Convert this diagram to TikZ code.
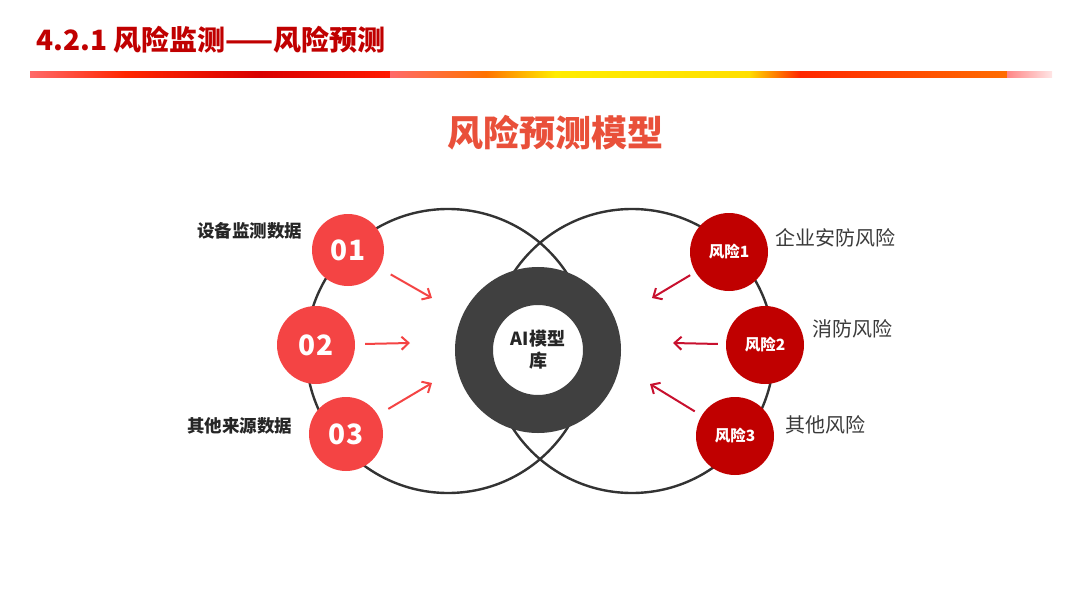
\documentclass[tikz,border=0pt]{standalone}
\usepackage{fontspec}
\setmainfont{Noto Sans CJK SC}
\usepackage{xcolor}
\usetikzlibrary{arrows.meta, positioning}

\definecolor{titlered}{HTML}{C00000}
\definecolor{headorange}{HTML}{E9503A}
\definecolor{datared}{HTML}{F44444}
\definecolor{riskred}{HTML}{C00000}
\definecolor{arrred}{HTML}{C8102E}
\definecolor{ringgray}{HTML}{404040}
\definecolor{ringline}{HTML}{333333}
\definecolor{lbldark}{HTML}{262626}
\definecolor{lblgray}{HTML}{3A3A3A}

\begin{document}
\begin{tikzpicture}[
  x=1pt, y=-1pt,
  bigring/.style={circle, draw=ringline, line width=2.4pt, minimum size=284pt, inner sep=0pt},
  airing/.style={circle, draw=ringgray, fill=white, line width=38pt, minimum size=128pt, inner sep=0pt, align=center, text=lbldark, font=\bfseries\fontsize{18}{22}\selectfont},
  datadot/.style={circle, fill=datared, text=white, inner sep=0pt, font=\bfseries\fontsize{28}{28}\selectfont},
  riskdot/.style={circle, fill=riskred, minimum size=78pt, text=white, inner sep=0pt, font=\bfseries\fontsize{15.5}{15.5}\selectfont},
  datalbl/.style={anchor=east, text=lbldark, font=\bfseries\fontsize{17.5}{17.5}\selectfont},
  risklbl/.style={anchor=west, text=lblgray, font=\fontsize{20}{20}\selectfont},
  inarr/.style={-{Straight Barb[length=7pt,width=13pt]}, draw=datared, line width=2pt},
  outarr/.style={-{Straight Barb[length=7pt,width=13pt]}, draw=arrred, line width=2pt}
]
\useasboundingbox (0,0) rectangle (1080,608);

% title and band
\node[anchor=west, text=titlered, font=\bfseries\fontsize{28}{28}\selectfont] (title) at (33,40) {4.2.1 风险监测——风险预测};
\foreach \xa/\xb/\ca/\cb in {30/125/red!45!pink/red!70!orange,
  125/260/red!70!orange/red!85!black, 260/390/red!85!black/red!80!orange,
  390/486/red!45!pink/orange!90!red, 486/555/orange!90!red/yellow!85!orange,
  555/750/yellow!85!orange/yellow!75!orange, 750/800/yellow!70!orange/red!70!orange,
  800/1007/red!70!orange/orange!85!red, 1007/1052/red!30!pink/red!10}
  \fill[left color=\ca, right color=\cb] (\xa,71) rectangle (\xb,77);

\node[text=headorange, font=\bfseries\fontsize{36}{36}\selectfont] (head) at (555,133) {风险预测模型};

% big circles
\node[bigring] (lc) at (448,351) {};
\node[bigring] (rc) at (632,351) {};

% model library
\node[airing] (ai) at (538,350) {AI模型\\库};

% data sources
\node[datadot, minimum size=72pt] (d1) at (348,250) {01};
\node[datadot, minimum size=78pt] (d2) at (316,345) {02};
\node[datadot, minimum size=74pt] (d3) at (346,434) {03};
\node[datalbl] (l1) at (306,231) {设备监测数据};
\node[datalbl] (l3) at (296,426) {其他来源数据};

% risks
\node[riskdot] (r1) at (729,252) {风险1};
\node[riskdot] (r2) at (765,345) {风险2};
\node[riskdot] (r3) at (735,436) {风险3};
\node[risklbl] (t1) at (772,238) {企业安防风险};
\node[risklbl] (t2) at (809,329) {消防风险};
\node[risklbl] (t3) at (782,425) {其他风险};

% arrow ends
\coordinate (in1) at (432,298);
\coordinate (in2) at (410,343);
\coordinate (in3) at (432,383);
\coordinate (out1) at (652,298);
\coordinate (out2) at (673,343);
\coordinate (out3) at (650,384);

\draw[inarr, shorten <=13pt] (d1) -- (in1);
\draw[inarr, shorten <=10pt] (d2) -- (in2);
\draw[inarr, shorten <=12pt] (d3) -- (in3);
\draw[outarr, shorten <=6pt] (r1) -- (out1);
\draw[outarr, shorten <=8pt] (r2) -- (out2);
\draw[outarr, shorten <=8pt] (r3) -- (out3);
\end{tikzpicture}
\end{document}
